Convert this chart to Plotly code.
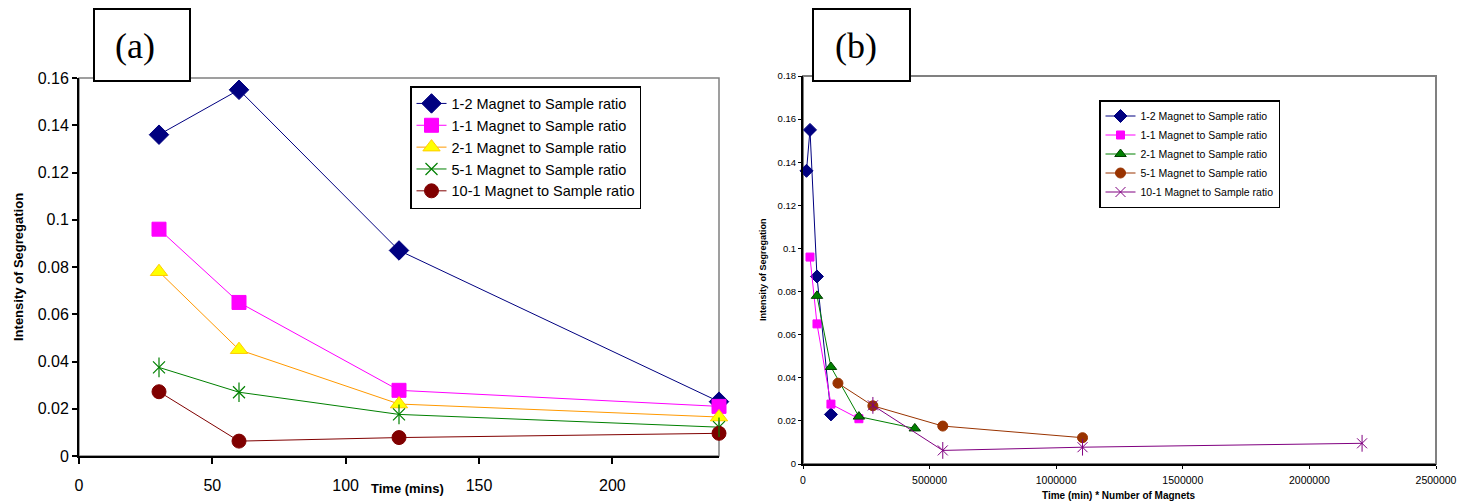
import plotly.graph_objects as go

W, H = 1458, 503

# ---------------- data ----------------
series_names = ["1-2 Magnet to Sample ratio", "1-1 Magnet to Sample ratio",
                "2-1 Magnet to Sample ratio", "5-1 Magnet to Sample ratio",
                "10-1 Magnet to Sample ratio"]

time_mins = [30, 60, 120, 240]
seg_1_2 = [0.136, 0.155, 0.087, 0.023]
seg_1_1 = [0.096, 0.065, 0.0278, 0.021]
seg_2_1 = [0.078, 0.045, 0.022, 0.0165]
seg_5_1 = [0.0375, 0.027, 0.0176, 0.0122]
seg_10_1 = [0.0272, 0.0063, 0.0078, 0.0096]

# panel (b) x values: time (min) * number of magnets
mt_1_2 = [13800, 27600, 55200, 110400]
mt_1_1 = [27600, 55200, 110400, 220800]
mt_2_1 = [55200, 110400, 220800, 441600]
mt_5_1 = [138000, 276000, 552000, 1104000]
mt_10_1 = [276000, 552000, 1104000, 2208000]

FONT = "Arial, Liberation Sans, sans-serif"

# plot region in pixels
ML, MR, MT, MB = 79, 22, 76, 39
PW = W - ML - MR
PH = H - MT - MB

def px_x(p):
    return (p - ML) / PW

def px_y(p):
    return (H - MB - p) / PH

fig = go.Figure()

# ---------------- panel (a) ----------------
a_style = [
    (seg_1_2, dict(symbol="diamond", size=15, color="#000080", line=dict(color="#000080", width=1)), "#000080"),
    (seg_1_1, dict(symbol="square", size=14, color="#FF00FF", line=dict(color="#FF00FF", width=1)), "#FF00FF"),
    (seg_2_1, dict(symbol="triangle-up", size=15, color="#FFFF00", line=dict(color="#FFCC00", width=1)), "#FF9900"),
    (seg_5_1, dict(symbol="x-thin-open", size=12, color="#008000", line=dict(color="#008000", width=1.2)), "#008000"),
    (seg_10_1, dict(symbol="circle", size=14, color="#800000", line=dict(color="#800000", width=1)), "#800000"),
]
for name, (ys, mk, lc) in zip(series_names, a_style):
    fig.add_trace(go.Scatter(x=time_mins, y=ys, name=name, mode="lines+markers",
                             line=dict(color=lc, width=1), marker=mk,
                             xaxis="x", yaxis="y", legend="legend", cliponaxis=False))
# vertical stroke of the star marker
fig.add_trace(go.Scatter(x=time_mins, y=seg_5_1, mode="markers", showlegend=False,
                         marker=dict(symbol="line-ns-open", size=14, color="#008000",
                                     line=dict(color="#008000", width=1.2)),
                         xaxis="x", yaxis="y", cliponaxis=False, hoverinfo="skip"))

# ---------------- panel (b) ----------------
b_x = [mt_1_2, mt_1_1, mt_2_1, mt_5_1, mt_10_1]
b_style = [
    (seg_1_2, dict(symbol="diamond", size=10, color="#000080", line=dict(color="#000080", width=1)), "#000080"),
    (seg_1_1, dict(symbol="square", size=8, color="#FF00FF", line=dict(color="#FF00FF", width=1)), "#FF00FF"),
    (seg_2_1, dict(symbol="triangle-up", size=10, color="#008000", line=dict(color="#004000", width=1)), "#008000"),
    (seg_5_1, dict(symbol="circle", size=10, color="#993300", line=dict(color="#993300", width=1)), "#993300"),
    (seg_10_1, dict(symbol="x-thin-open", size=10, color="#800080", line=dict(color="#800080", width=1)), "#800080"),
]
for name, xs, (ys, mk, lc) in zip(series_names, b_x, b_style):
    fig.add_trace(go.Scatter(x=xs, y=ys, name=name, mode="lines+markers",
                             line=dict(color=lc, width=1), marker=mk,
                             xaxis="x2", yaxis="y2", legend="legend2", cliponaxis=False))
fig.add_trace(go.Scatter(x=mt_10_1, y=seg_10_1, mode="markers", showlegend=False,
                         marker=dict(symbol="line-ns-open", size=12, color="#800080",
                                     line=dict(color="#800080", width=1)),
                         xaxis="x2", yaxis="y2", cliponaxis=False, hoverinfo="skip"))

axis_common = dict(showgrid=False, zeroline=False, showline=True, linecolor="black",
                   ticks="outside", tickcolor="black", automargin=False)

fig.update_layout(
    width=W, height=H, autosize=False,
    margin=dict(l=ML, r=MR, t=MT, b=MB, pad=0, autoexpand=False),
    paper_bgcolor="white", plot_bgcolor="white",
    font=dict(family=FONT, color="black"),
    xaxis=dict(domain=[0, px_x(719)], range=[0, 240], dtick=50, tick0=0,
               linewidth=2, ticklen=6, tickwidth=1.5, ticklabelstandoff=8,
               tickfont=dict(size=16, family=FONT), anchor="y", **axis_common),
    yaxis=dict(domain=[px_y(456), px_y(78)], range=[0, 0.16], dtick=0.02, tick0=0,
               linewidth=2, ticklen=5, tickwidth=1.5,
               tickfont=dict(size=16, family=FONT), anchor="x", **axis_common),
    xaxis2=dict(domain=[px_x(803), 1], range=[0, 2500000], dtick=500000, tick0=0,
                tickformat="d", linewidth=2, ticklen=3, tickwidth=1, ticklabelstandoff=2,
                tickfont=dict(size=10.5, family=FONT), anchor="y2", **axis_common),
    yaxis2=dict(domain=[0, 1], range=[0, 0.18], dtick=0.02, tick0=0,
                linewidth=2, ticklen=3, tickwidth=1,
                tickfont=dict(size=9.5, family=FONT), anchor="x2", **axis_common),
    legend=dict(x=px_x(410), y=px_y(86), xanchor="left", yanchor="top",
                bgcolor="white", bordercolor="black", borderwidth=1.5,
                font=dict(size=14.5, family=FONT), itemwidth=30,
                tracegroupgap=0),
    legend2=dict(x=px_x(1099), y=px_y(100), xanchor="left", yanchor="top",
                 bgcolor="white", bordercolor="black", borderwidth=1.5,
                 font=dict(size=10.5, family=FONT), itemwidth=30,
                 tracegroupgap=0),
    showlegend=True,
)

# frames (grey top/right borders)
fig.add_shape(type="rect", xref="x domain", yref="y domain", x0=0, x1=1, y0=0, y1=1,
              line=dict(color="#808080", width=1.5), layer="below")
fig.add_shape(type="rect", xref="x2 domain", yref="y2 domain", x0=0, x1=1, y0=0, y1=1,
              line=dict(color="#808080", width=2), layer="below")

# panel label boxes
for (x0, x1, txt, tx) in [(94, 190, "(a)", 135), (813, 910, "(b)", 856)]:
    fig.add_shape(type="rect", xref="paper", yref="paper",
                  x0=px_x(x0), x1=px_x(x1), y0=px_y(81), y1=px_y(9),
                  fillcolor="white", line=dict(color="black", width=2), layer="above")
    fig.add_annotation(x=px_x(tx), y=px_y(46), xref="paper", yref="paper",
                       text=txt, showarrow=False, xanchor="center", yanchor="middle",
                       font=dict(family="Liberation Serif, Times New Roman, serif", size=36,
                                 color="black"))

# axis titles
fig.add_annotation(x=px_x(18), y=px_y(267), xref="paper", yref="paper",
                   text="<b>Intensity of Segregation</b>", textangle=-90, showarrow=False,
                   xanchor="center", yanchor="middle", font=dict(size=13, family=FONT))
fig.add_annotation(x=px_x(407), y=px_y(488), xref="paper", yref="paper",
                   text="<b>Time (mins)</b>", showarrow=False,
                   xanchor="center", yanchor="middle", font=dict(size=13, family=FONT))
fig.add_annotation(x=px_x(763), y=px_y(270), xref="paper", yref="paper",
                   text="<b>Intensity of Segregation</b>", textangle=-90, showarrow=False,
                   xanchor="center", yanchor="middle", font=dict(size=9, family=FONT))
fig.add_annotation(x=px_x(1119), y=px_y(495), xref="paper", yref="paper",
                   text="<b>Time (min) * Number of Magnets</b>", showarrow=False,
                   xanchor="center", yanchor="middle", font=dict(size=10, family=FONT))

fig.write_html("out.html", config={"displayModeBar": False},
               post_script="document.body.style.margin='0px';document.body.style.padding='0px';")
